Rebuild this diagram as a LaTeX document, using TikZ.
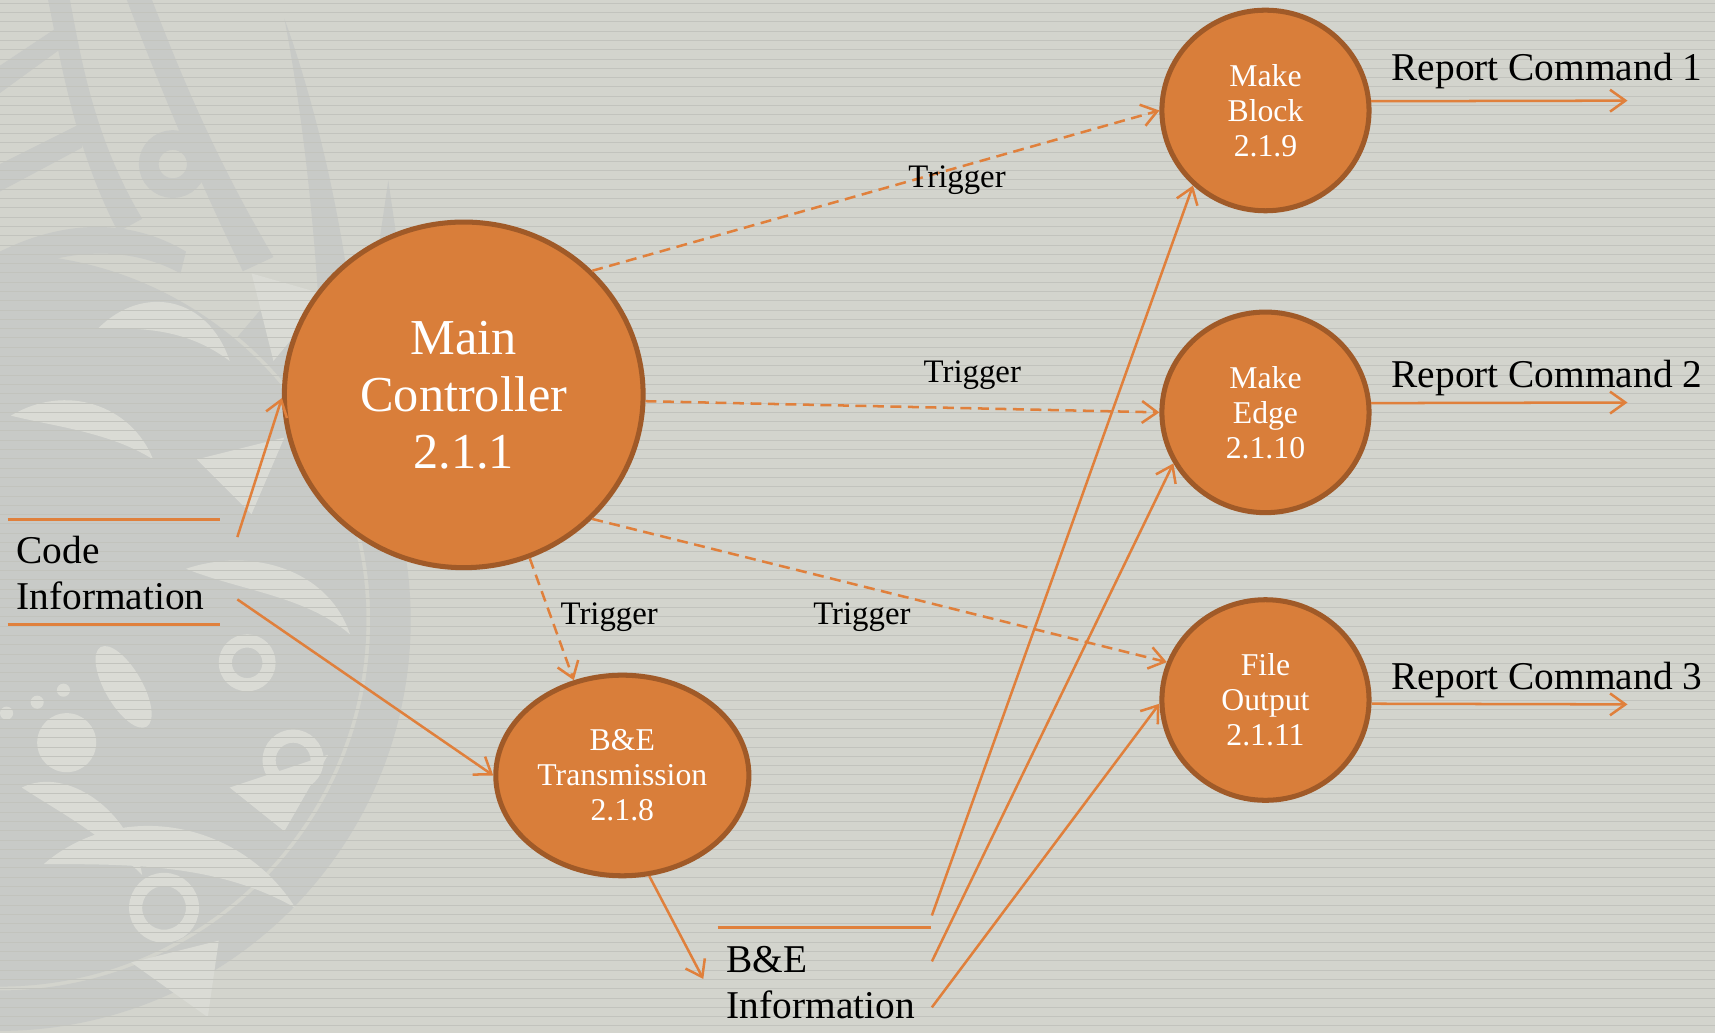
\documentclass[tikz,border=0pt]{standalone}
\usepackage{fontspec}
\setmainfont{Liberation Serif}
\usetikzlibrary{shapes.geometric,arrows.meta}
\definecolor{bg}{RGB}{211,212,205}
\definecolor{stripe}{RGB}{194,195,189}
\definecolor{orn}{RGB}{200,202,199}
\definecolor{ornlight}{RGB}{218,219,213}
\definecolor{ofill}{RGB}{217,126,58}
\definecolor{ostroke}{RGB}{160,90,40}
\definecolor{oline}{RGB}{224,128,60}
\begin{document}
\begin{tikzpicture}[x=0.5pt,y=-0.5pt,
  proc/.style={ellipse,draw=ostroke,fill=ofill,line width=2.3pt,inner sep=0pt,
    text=white,align=center,font=\fontsize{14.5}{16}\selectfont},
  flow/.style={draw=oline,line width=1.15pt,-{Straight Barb[length=7pt,width=10pt]}},
  trig/.style={flow,dash pattern=on 5pt off 3pt},
  lbl/.style={font=\fontsize{15}{18}\selectfont,inner sep=0pt,anchor=base},
  big/.style={font=\fontsize{18}{21}\selectfont,align=left,inner sep=0pt},
  store/.style={draw=oline,line width=1.15pt}]
\useasboundingbox (0,0) rectangle (1568,944.4);
\fill[bg] (0,0) rectangle (1568,944.4);
% decorative ornament
\begin{scope}
\clip (0,0) rectangle (1568,944.4);
\fill[orn] (0,567) circle[radius=335];
\draw[orn,line width=18.5pt] (0,567) ++(-50:357) arc[start angle=-50,end angle=115,radius=357];
\fill[ornlight] (61,679) circle[radius=27];
\fill[ornlight] (58,631) circle[radius=6];
\fill[ornlight] (34,642) circle[radius=6];
\fill[ornlight] (6,652) circle[radius=6];
\fill[ornlight,rotate around={-60:(113,628)}] (113,628) ellipse[x radius=42,y radius=17];
\draw[ornlight,line width=6pt] (226,606) circle[radius=20];
\draw[ornlight,line width=6pt] (268,695) circle[radius=22];
\draw[ornlight,line width=6pt] (150,830) circle[radius=26];
\fill[ornlight] (40,790) .. controls (110,730) and (220,750) .. (270,830) .. controls (200,790) and (120,790) .. (40,790) -- cycle;
\fill[ornlight] (170,520) .. controls (230,500) and (300,520) .. (320,580) .. controls (280,545) and (220,540) .. (170,520) -- cycle;
\fill[ornlight] (20,720) .. controls (60,700) and (120,740) .. (130,800) .. controls (90,760) and (50,740) .. (20,720) -- cycle;
\fill[ornlight] (210,720) -- (300,690) -- (260,760) -- cycle;
\fill[ornlight] (120,880) -- (200,860) -- (190,930) -- cycle;
\fill[ornlight] (230,250) -- (300,270) -- (250,330) -- cycle;
\fill[ornlight] (90,300) .. controls (130,260) and (190,270) .. (210,330) .. controls (170,300) and (130,300) .. (90,300) -- cycle;
\fill[ornlight] (10,380) .. controls (60,350) and (120,370) .. (140,420) .. controls (100,395) and (50,390) .. (10,380) -- cycle;
\fill[ornlight] (180,420) -- (260,400) -- (230,470) -- cycle;
% spikes at the top
\fill[orn] (139,0) .. controls (170,80) and (200,150) .. (250,235) -- (222,248) .. controls (180,160) and (150,90) .. (116,0) -- cycle;
\fill[orn] (260,17) .. controls (290,100) and (312,200) .. (322,285) -- (292,290) .. controls (287,200) and (276,100) .. (260,17) -- cycle;
\fill[orn] (355,165) -- (363,220) -- (347,220) -- cycle;
\fill[orn] (64,0) .. controls (75,60) and (88,130) .. (130,200) -- (108,212) .. controls (70,140) and (56,60) .. (44,0) -- cycle;
\fill[orn] (0,60) -- (60,20) -- (55,45) -- (0,85) -- cycle;
\fill[orn] (0,150) -- (80,110) -- (75,135) -- (0,175) -- cycle;
\draw[orn,line width=9pt] (158,150) circle[radius=22];
\fill[orn] (0,230) .. controls (60,200) and (120,200) .. (170,230) -- (165,250) .. controls (120,225) and (60,225) .. (0,255) -- cycle;
\foreach \i in {0,...,111}
  \draw[stripe,line width=0.45pt] (0,{3+8.5*\i}) -- (1568,{3+8.5*\i});
\end{scope}
% processes
\node[proc,minimum width=164pt,minimum height=158pt,
  font=\fontsize{23}{26}\selectfont] (main) at (424,361) {Main\\Controller\\2.1.1};
\node[proc,minimum width=94.7pt,minimum height=91.7pt] (mb) at (1157,101) {Make\\Block\\2.1.9};
\node[proc,minimum width=94.7pt,minimum height=91.7pt] (me) at (1157,377) {Make\\Edge\\2.1.10};
\node[proc,minimum width=94.7pt,minimum height=91.7pt] (fo) at (1157,640) {File\\Output\\2.1.11};
\node[proc,minimum width=115.7pt,minimum height=91.7pt] (be) at (569,709) {B\&E\\Transmission\\2.1.8};
% data stores
\coordinate (cs1) at (7,475);   \coordinate (cs2) at (201,475);
\coordinate (cs3) at (7,571);   \coordinate (cs4) at (201,571);
\draw[store] (cs1) -- (cs2);
\draw[store] (cs3) -- (cs4);
\node[big,anchor=base west] (code) at (14.6,557) {Code\\Information};
\coordinate (bs1) at (656,848); \coordinate (bs2) at (851,848);
\draw[store] (bs1) -- (bs2);
\node[big,anchor=base west] (bei) at (664,931) {B\&E\\Information};
% external report labels
\node[big,anchor=base west] (rc1) at (1272,74) {Report Command 1};
\node[big,anchor=base west] (rc2) at (1272,354) {Report Command 2};
\node[big,anchor=base west] (rc3) at (1272,630) {Report Command 3};
\coordinate (r1e) at (1488,92);
\coordinate (r2e) at (1488,368);
\coordinate (r3e) at (1488,644);
\draw[flow] (mb.5) -- (r1e);
\draw[flow] (me.5) -- (r2e);
\draw[flow] (fo.-2) -- (r3e);
% triggers
\draw[trig] (main.44) -- (mb.180);
\draw[trig] (main.-2) -- (me.180);
\draw[trig] (main.-44) -- (fo.159);
\draw[trig] (main.-68) -- (be.117);
\node[lbl] (t1) at (875,171) {Trigger};
\node[lbl] (t2) at (889,350) {Trigger};
\node[lbl] (t3) at (557,571) {Trigger};
\node[lbl] (t4) at (788,571) {Trigger};
% code information flows
\coordinate (ci1) at (217,491);
\coordinate (ci2) at (217,548);
\draw[flow] (ci1) -- (main.181);
\draw[flow] (ci2) -- (be.180);
% B&E information flows
\coordinate (bo) at (643,895);
\draw[flow] (be.-75) -- (bo);
\coordinate (bi1) at (852,837);
\coordinate (bi2) at (852,879);
\coordinate (bi3) at (852,921);
\draw[flow] (bi1) -- (mb.226);
\draw[flow] (bi2) -- (me.209);
\draw[flow] (bi3) -- (fo.182);
\end{tikzpicture}
\end{document}
